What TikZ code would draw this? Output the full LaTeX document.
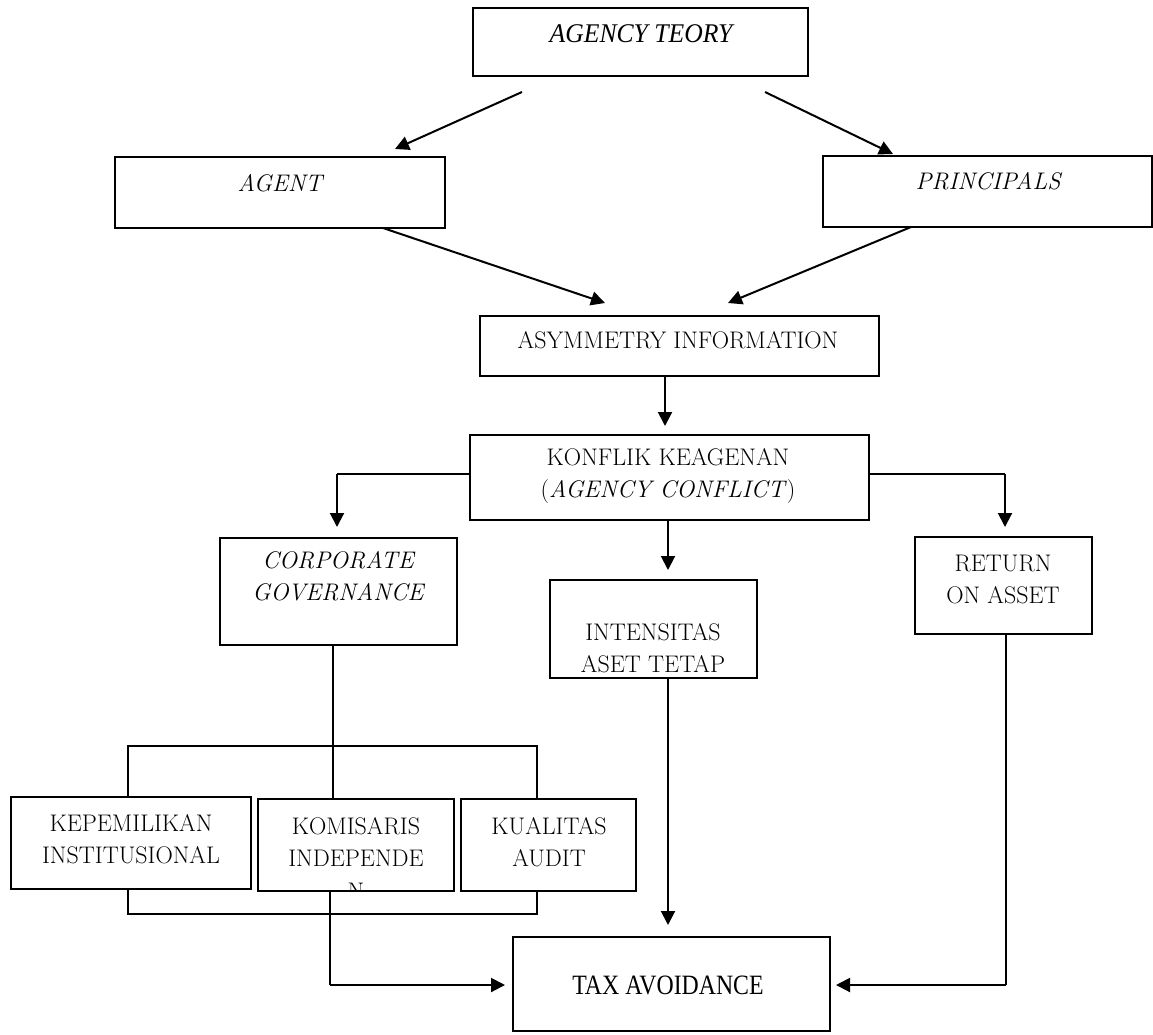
\documentclass[tikz,border=0pt]{standalone}
\usepackage{fontspec}
\usetikzlibrary{arrows.meta}
\newfontfamily\timesf{Liberation Serif}
\newfontfamily\timescond[FakeStretch=0.85]{Liberation Serif}
\newfontfamily\timesitc[FakeStretch=0.95]{Liberation Serif}
\begin{document}
\begin{tikzpicture}[x=1pt,y=-1pt,
  box/.style={draw,line width=1.6pt,inner sep=0pt,rectangle},
  txt/.style={inner sep=0pt,align=center,font=\fontsize{24}{32}\selectfont},
  arr/.style={line width=2pt,-{Triangle[length=14pt,width=14pt]}},
  thin/.style={line width=1.3pt}]
\useasboundingbox (0,0) rectangle (1153,1034);
% boxes
\node[box,minimum width=335,minimum height=68] (teory) at (640.5,42) {};
\node[box,minimum width=330,minimum height=71] (agent) at (280,192.5) {};
\node[box,minimum width=329,minimum height=71] (princ) at (987.5,191.5) {};
\node[box,minimum width=399,minimum height=60] (asym) at (679.5,346) {};
\node[box,minimum width=399,minimum height=85] (konf) at (669.5,477.5) {};
\node[box,minimum width=237,minimum height=107] (corp) at (338.5,591.5) {};
\node[box,minimum width=207,minimum height=98] (inten) at (653.5,629) {};
\node[box,minimum width=177,minimum height=97] (roa) at (1003.5,585.5) {};
\node[box,minimum width=240,minimum height=92] (kep) at (131,843) {};
\node[box,minimum width=196,minimum height=92] (kom) at (356,845) {};
\node[box,minimum width=175,minimum height=92] (kual) at (548.5,845) {};
\node[box,minimum width=317,minimum height=94] (tax) at (671.5,984) {};
% texts
\node[txt,font=\fontsize{27}{32}\selectfont\timesitc\itshape] (tteory) at (641,34) {AGENCY TEORY};
\node[txt] (tagent) at (280,183) {\itshape AGENT};
\node[txt] (tprinc) at (988,181) {\itshape PRINCIPALS};
\node[txt] (tasym) at (678,340) {ASYMMETRY INFORMATION};
\node[txt] (tkonf) at (668,476) {KONFLIK KEAGENAN\\(\textit{AGENCY CONFLICT})};
\node[txt] (tcorp) at (338,576) {\itshape CORPORATE\\\itshape GOVERNANCE};
\node[txt] (tinten) at (653,648) {INTENSITAS\\ASET TETAP};
\node[txt] (troa) at (1003,579) {RETURN\\ON ASSET};
\node[txt] (tkep) at (131,839) {KEPEMILIKAN\\INSTITUSIONAL};
\node[txt] (tkom) at (356,842) {KOMISARIS\\INDEPENDE};
\begin{scope}
\clip (kom.north west) rectangle (kom.south east);
\node[txt,anchor=base] (tkomn) at (356,899) {N};
\end{scope}
\node[txt] (tkual) at (549,842) {KUALITAS\\AUDIT};
\node[txt,font=\fontsize{28}{32}\selectfont\timescond] (ttax) at (668,985) {TAX AVOIDANCE};
% coordinates
\coordinate (a1) at (522,92); \coordinate (a1e) at (395,149);
\coordinate (a2) at (765,92); \coordinate (a2e) at (893,154);
\coordinate (b1) at (383,228); \coordinate (b1e) at (605,303);
\coordinate (b2) at (911,227); \coordinate (b2e) at (728,303);
\coordinate (c1e) at (665,426);
\coordinate (kl) at (337,474); \coordinate (kle) at (337,527);
\coordinate (kr) at (1005,474); \coordinate (kre) at (1005,527);
\coordinate (kme) at (668,570);
\coordinate (h1) at (128,746); \coordinate (h2) at (537,746);
\coordinate (g1) at (128,914); \coordinate (g2) at (537,914);
\coordinate (kb) at (330,985); \coordinate (kbe) at (505,985);
\coordinate (ie) at (668,925);
\coordinate (rb) at (1006,985); \coordinate (rbe) at (836,985);
% connectors
\draw[arr] (a1) -- (a1e);
\draw[arr] (a2) -- (a2e);
\draw[arr] (b1) -- (b1e);
\draw[arr] (b2) -- (b2e);
\draw[arr] (asym.south -| c1e) -- (c1e);
\draw[thin] (konf.west |- kl) -- (kl);
\draw[arr] (kl) -- (kle);
\draw[thin] (konf.east |- kr) -- (kr);
\draw[arr] (kr) -- (kre);
\draw[arr] (konf.south -| kme) -- (kme);
\draw[thin] (corp.south -| 333,0) -- (kom.north -| 333,0);
\draw[thin] (kep.north -| h1) -- (h1) -- (h2) -- (kual.north -| h2);
\draw[thin] (kep.south -| g1) -- (g1) -- (g2) -- (kual.south -| g2);
\draw[thin] (kom.south -| kb) -- (kb);
\draw[arr] (kb) -- (kbe);
\draw[arr] (inten.south -| ie) -- (ie);
\draw[thin] (roa.south -| rb) -- (rb);
\draw[arr] (rb) -- (rbe);
\end{tikzpicture}
\end{document}
